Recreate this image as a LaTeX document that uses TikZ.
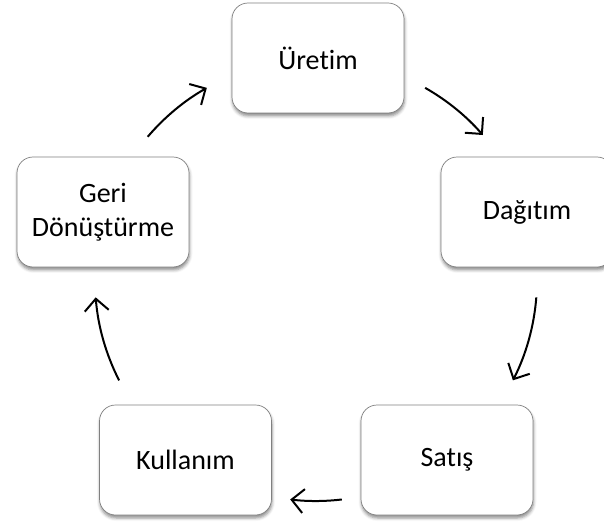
\documentclass[tikz,border=0pt]{standalone}
\usepackage{fontspec}
\setmainfont{Carlito}[Ligatures=NoCommon]
\usetikzlibrary{arrows.meta,shadows.blur,calc}

\begin{document}
\begin{tikzpicture}[x=1pt,y=1pt,
  stage/.style={draw=black!50, line width=0.7pt, fill=white,
    rounded corners=16pt, minimum width=172pt, minimum height=110pt,
    inner sep=0pt, align=center, font=\fontsize{28}{34}\selectfont,
    blur shadow={shadow xshift=0.5pt, shadow yshift=-3pt,
      shadow blur radius=3pt, shadow opacity=45}},
  flow/.style={line width=2pt,
    -{Straight Barb[length=12pt,width=24pt,line width=2pt]}}]
\useasboundingbox (0,0) rectangle (604,523);

% stages of the cycle
\node[stage] (uretim)   at (318,465) {Üretim};
\node[stage] (dagitim)  at (527,311) {Dağıtım};
\node[stage] (satis)    at (447,63)  {Satış};
\node[stage] (kullanim) at (185.5,63) {Kullanım};
\node[stage] (geri)     at (103,311) {Geri\\Dönüştürme};

% common centre of the cycle arrows
\coordinate (c) at (316,243);
\def\rad{221}

\coordinate (a1) at ($(c)+(60.4:\rad)$);
\coordinate (a2) at ($(c)+(-4.5:\rad)$);
\coordinate (a3) at ($(c)+(-83.3:\rad)$);
\coordinate (a4) at ($(c)+(-153:\rad)$);
\coordinate (a5) at ($(c)+(139.6:\rad)$);

\draw[flow] (a1) arc[start angle=60.4,  end angle=41,     radius=\rad];
\draw[flow] (a2) arc[start angle=-4.5,  end angle=-27,    radius=\rad];
\draw[flow] (a3) arc[start angle=-83.3, end angle=-96.7,  radius=\rad];
\draw[flow] (a4) arc[start angle=-153,  end angle=-175.5, radius=\rad];
\draw[flow] (a5) arc[start angle=139.6, end angle=119.6,  radius=\rad];
\end{tikzpicture}
\end{document}
